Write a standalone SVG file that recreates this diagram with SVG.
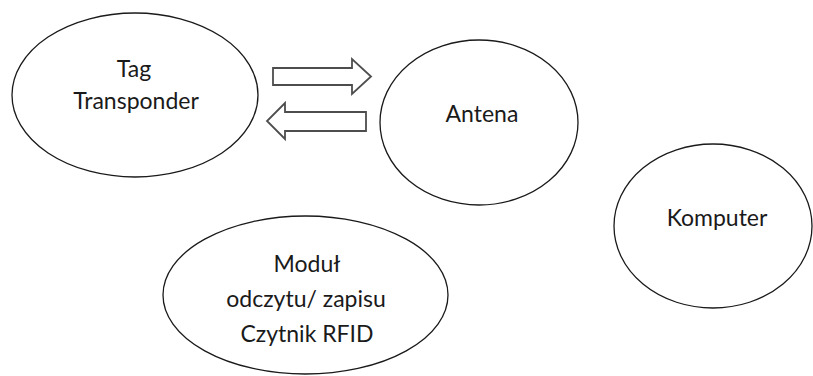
<svg xmlns="http://www.w3.org/2000/svg" width="813" height="376" viewBox="0 0 813 376">
<style>
.node{fill:#fff;stroke:#1a1a1a;stroke-width:1.3}
.arrow{fill:#fff;stroke:#4d4d4d;stroke-width:1.8;stroke-linejoin:miter}
text{font-family:Lato,"Open Sans",sans-serif;font-size:23px;fill:#1a1a1a;text-anchor:middle}
</style>
<rect width="813" height="376" fill="#fff"/>
<g id="tag">
<ellipse class="node" cx="135" cy="95" rx="123" ry="82"/>
<text x="134" y="77">Tag</text>
<text x="136" y="109">Transponder</text>
</g>
<g id="antena">
<ellipse class="node" cx="479" cy="122.5" rx="99" ry="82.5"/>
<text x="482" y="122">Antena</text>
</g>
<g id="komputer">
<ellipse class="node" cx="713" cy="226" rx="99" ry="82"/>
<text x="717" y="226">Komputer</text>
</g>
<g id="modul">
<ellipse class="node" cx="305.5" cy="295" rx="142.5" ry="79"/>
<text x="307" y="272">Moduł</text>
<text x="306" y="307">odczytu/ zapisu</text>
<text x="307" y="342">Czytnik RFID</text>
</g>
<g id="connectors">
<path class="arrow" d="M273,68 H352 V59 L371,76.5 L352,94 V85 H273 Z"/>
<path class="arrow" d="M366,112 H285 V103 L267,121 L285,139 V131 H366 Z"/>
</g>
</svg>
